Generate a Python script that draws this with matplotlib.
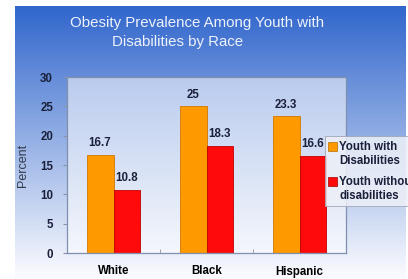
import matplotlib.pyplot as plt
from matplotlib.patches import Rectangle
import numpy as np

# data
categories = ["White", "Black", "Hispanic"]
with_disab = [16.7, 25, 23.3]
without_disab = [10.8, 18.3, 16.6]
series_names = ["Youth with\nDisabilities", "Youth without\ndisabilities"]
series_colors = ["#ff9900", "#ff0a0a"]
yticks = [0, 5, 10, 15, 20, 25, 30]

W, H = 408, 279
FONT = "Liberation Sans"
fig = plt.figure(figsize=(W / 100, H / 100), dpi=100)
fig.patch.set_facecolor("white")

# blue -> white gradient background
bg = fig.add_axes([15 / W, 0, (406 - 15) / W, (279 - 6) / H])
bg.set_axis_off()
top = np.array([0.19, 0.40, 0.80])
bot = np.array([0.99, 0.99, 1.0])
t = np.linspace(0, 1, 256)[:, None]
grad = top * (1 - t) + bot * t
bg.imshow(grad[:, None, :].repeat(2, axis=1), aspect="auto", extent=[0, 1, 0, 1])

# title
fig.text(197 / W, 1 - 23 / H, "Obesity Prevalence Among Youth with",
         ha="center", va="center", color="#eef2fb", fontsize=10.8, family=FONT)
fig.text(178 / W, 1 - 42 / H, "Disabilities by Race",
         ha="center", va="center", color="#eef2fb", fontsize=10.8, family=FONT)

ax = fig.add_axes([67 / W, (279 - 253) / H, 279 / W, (253 - 77) / H])
ax.set_facecolor((1, 1, 1, 0.55))

x = np.arange(len(categories))
bw = 0.29
b1 = ax.bar(x - bw / 2, with_disab, bw, color=series_colors[0],
            edgecolor="#d07800", linewidth=0.6)
b2 = ax.bar(x + bw / 2, without_disab, bw, color=series_colors[1],
            edgecolor="#c00000", linewidth=0.6)

for bars, vals in ((b1, with_disab), (b2, without_disab)):
    for b, v in zip(bars, vals):
        ax.annotate(f"{v:g}", (b.get_x() + b.get_width() / 2, v),
                    xytext=(0, 4), textcoords="offset points",
                    ha="center", va="bottom", fontsize=8.3, fontweight="bold",
                    color="#1a1f3a", family=FONT)

ax.set_xlim(-0.5, 2.5)
ax.set_ylim(0, 30)
ax.set_yticks(yticks)
ax.set_xticks(x)
ax.set_xticklabels(categories, fontsize=8.3, fontweight="bold", family=FONT)
ax.set_xticks([0.5, 1.5], minor=True)
ax.tick_params(axis="x", which="major", length=0, pad=9)
ax.tick_params(axis="x", which="minor", length=3, color="#8a93a8", direction="in")
ax.tick_params(axis="y", length=3, color="#8a93a8", labelsize=8.3,
               labelcolor="#1a1f3a", pad=7)
for lab in ax.get_yticklabels():
    lab.set_fontweight("bold")
    lab.set_family(FONT)
ax.set_ylabel("Percent", fontsize=9, color="#333a4a", labelpad=8, family=FONT)
for s in ax.spines.values():
    s.set_color("#7f8fb0")
    s.set_linewidth(0.9)

# legend box, handles aligned with the first text line as in the source
fig.patches.append(Rectangle((325 / W, 1 - 206 / H), 90 / W, 70 / H,
                             transform=fig.transFigure, facecolor=(0.93, 0.94, 0.97, 0.85),
                             edgecolor="#a0a8b8", linewidth=0.6, zorder=5))
for i, (name, col) in enumerate(zip(series_names, series_colors)):
    ytop = 141 + i * 35
    fig.patches.append(Rectangle((328 / W, 1 - (ytop + 10) / H), 9 / W, 9 / H,
                                 transform=fig.transFigure, facecolor=col,
                                 edgecolor="#b07000" if i == 0 else "#a00000",
                                 linewidth=0.5, zorder=6))
    fig.text(339 / W, 1 - ytop / H, name, ha="left", va="top", fontsize=8.3,
             fontweight="bold", color="#1a1f3a", family=FONT, linespacing=1.25,
             zorder=7)

fig.savefig("out.png", dpi=100)
